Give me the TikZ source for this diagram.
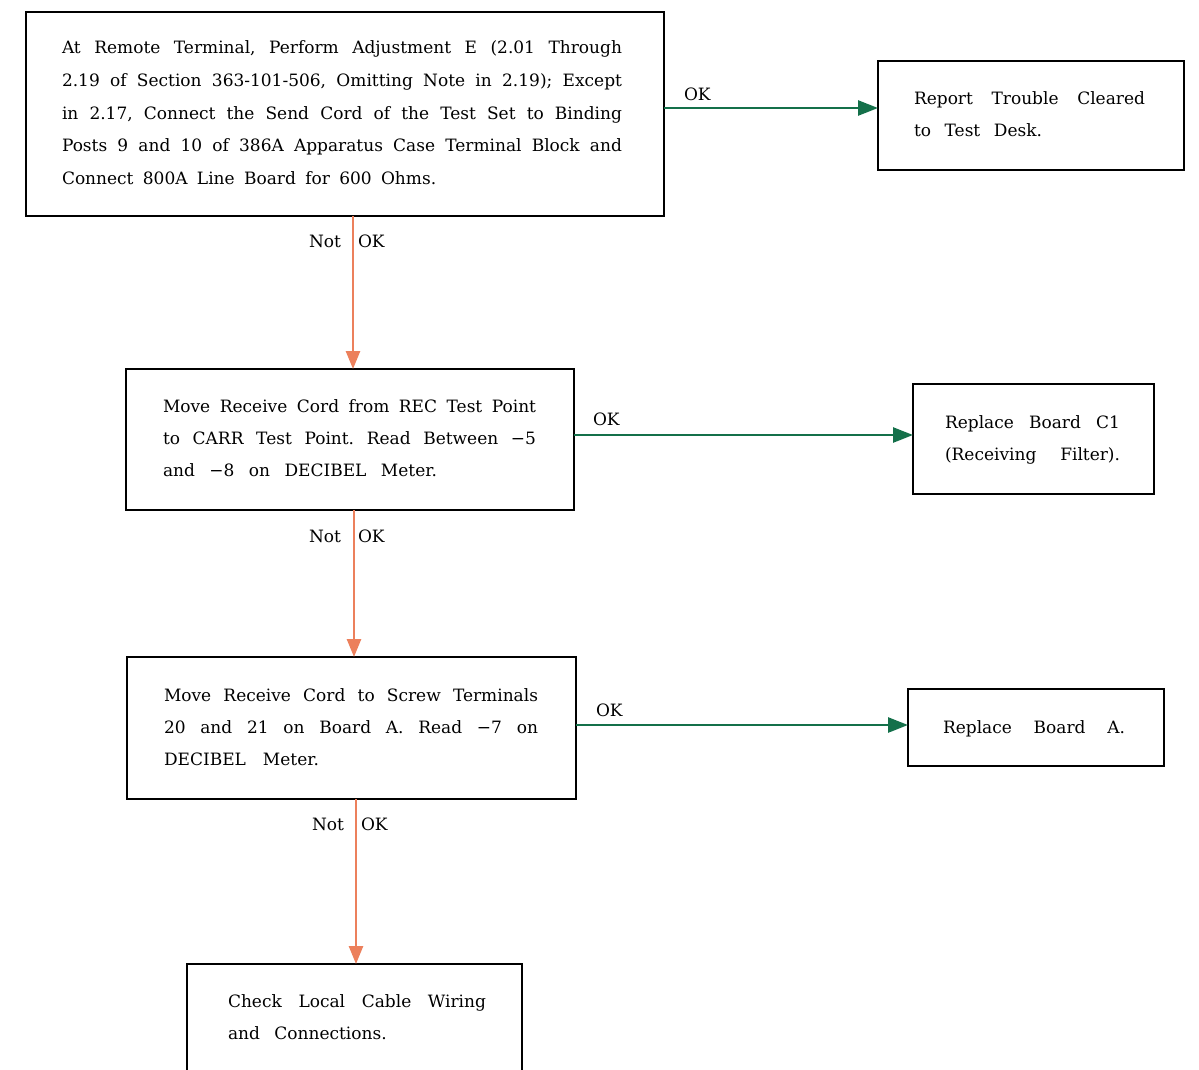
\documentclass[tikz,border=0pt]{standalone}
\usepackage{fontspec}
\setmainfont{DejaVu Serif}
\usetikzlibrary{arrows.meta}
\definecolor{okgreen}{RGB}{20,112,74}
\definecolor{nokred}{RGB}{236,128,92}
\frenchspacing
\newcommand{\jl}[2]{\hbox to #1pt{\spaceskip=0.45em plus 1fil minus 0.25em\relax #2}}
\newcommand{\wl}[2]{\hbox{\spaceskip=#1em\relax #2}}
\tikzset{
  boxnode/.style={draw=black, line width=2.8pt, rectangle, inner sep=0pt, outer sep=0pt},
  txt/.style={inner sep=0pt, outer sep=0pt, anchor=base west, font=\fontsize{17}{21}\selectfont},
  lbl/.style={inner sep=0pt, outer sep=0pt, font=\fontsize{17}{21}\selectfont},
  okarrow/.style={draw=okgreen, line width=2.6pt, -{Triangle[length=20pt,width=15pt]}},
  nokarrow/.style={draw=nokred, line width=2.6pt, -{Triangle[length=18pt,width=14pt]}}
}
\begin{document}
\begin{tikzpicture}[x=1pt,y=-1pt]
\clip (0,0) rectangle (1199,1069);
\fill[white] (0,0) rectangle (1199,1069);
% boxes
\node[boxnode, minimum width=638pt, minimum height=204pt] (b1) at (345,114) {};
\node[boxnode, minimum width=306pt, minimum height=109pt] (b2) at (1031,115.5) {};
\node[boxnode, minimum width=448pt, minimum height=141pt] (b3) at (350,439.5) {};
\node[boxnode, minimum width=241pt, minimum height=110pt] (b4) at (1033.5,439) {};
\node[boxnode, minimum width=449pt, minimum height=142pt] (b5) at (351.5,728) {};
\node[boxnode, minimum width=256pt, minimum height=77pt] (b6) at (1036,727.5) {};
\node[boxnode, minimum width=335pt, minimum height=130pt] (b7) at (354.5,1029) {};
% box 1 text
\node[txt] (t1a) at (62,53) {\jl{560}{At Remote Terminal, Perform Adjustment E (2.01 Through}};
\node[txt] (t1b) at (62,86) {\jl{560}{2.19 of Section 363-101-506, Omitting Note in 2.19); Except}};
\node[txt] (t1c) at (62,119) {\jl{560}{in 2.17, Connect the Send Cord of the Test Set to Binding}};
\node[txt] (t1d) at (62,151) {\jl{560}{Posts 9 and 10 of 386A Apparatus Case Terminal Block and}};
\node[txt] (t1e) at (62,184) {\wl{0.55}{Connect 800A Line Board for 600 Ohms.}};
% box 2 text
\node[txt] (t2a) at (914,104) {\jl{231}{Report Trouble Cleared}};
\node[txt] (t2b) at (914,136) {\wl{0.8}{to Test Desk.}};
% box 3 text
\node[txt] (t3a) at (163,412) {\jl{373}{Move Receive Cord from REC Test Point}};
\node[txt] (t3b) at (163,444) {\jl{373}{to CARR Test Point. Read Between −5}};
\node[txt] (t3c) at (163,476) {\wl{0.85}{and −8 on DECIBEL Meter.}};
% box 4 text
\node[txt] (t4a) at (945,428) {\jl{175}{Replace Board C1}};
\node[txt] (t4b) at (945,460) {\jl{175}{(Receiving Filter).}};
% box 5 text
\node[txt] (t5a) at (164,701) {\jl{374}{Move Receive Cord to Screw Terminals}};
\node[txt] (t5b) at (164,733) {\jl{374}{20 and 21 on Board A. Read −7 on}};
\node[txt] (t5c) at (164,765) {\wl{1.0}{DECIBEL Meter.}};
% box 6 text
\node[txt] (t6a) at (943,733) {\jl{182}{Replace Board A.}};
% box 7 text
\node[txt] (t7a) at (228,1007) {\jl{258}{Check Local Cable Wiring}};
\node[txt] (t7b) at (228,1039) {\wl{0.85}{and Connections.}};
% OK arrows
\draw[okarrow] (b1.east |- 0,108) -- (b2.west |- 0,108);
\draw[okarrow] (b3.east |- 0,435) -- (b4.west |- 0,435);
\draw[okarrow] (b5.east |- 0,725) -- (b6.west |- 0,725);
\node[lbl, anchor=base west] (ok1) at (684,100) {OK};
\node[lbl, anchor=base west] (ok2) at (593,425) {OK};
\node[lbl, anchor=base west] (ok3) at (596,716) {OK};
% Not OK arrows
\draw[nokarrow] (b1.south -| 353,0) -- (b3.north -| 353,0);
\draw[nokarrow] (b3.south -| 354,0) -- (b5.north -| 354,0);
\draw[nokarrow] (b5.south -| 356,0) -- (b7.north -| 356,0);
\node[lbl, anchor=base east] (n1) at (341,247) {Not};
\node[lbl, anchor=base west] (k1) at (358,247) {OK};
\node[lbl, anchor=base east] (n2) at (341,542) {Not};
\node[lbl, anchor=base west] (k2) at (358,542) {OK};
\node[lbl, anchor=base east] (n3) at (344,830) {Not};
\node[lbl, anchor=base west] (k3) at (361,830) {OK};
\end{tikzpicture}
\end{document}
